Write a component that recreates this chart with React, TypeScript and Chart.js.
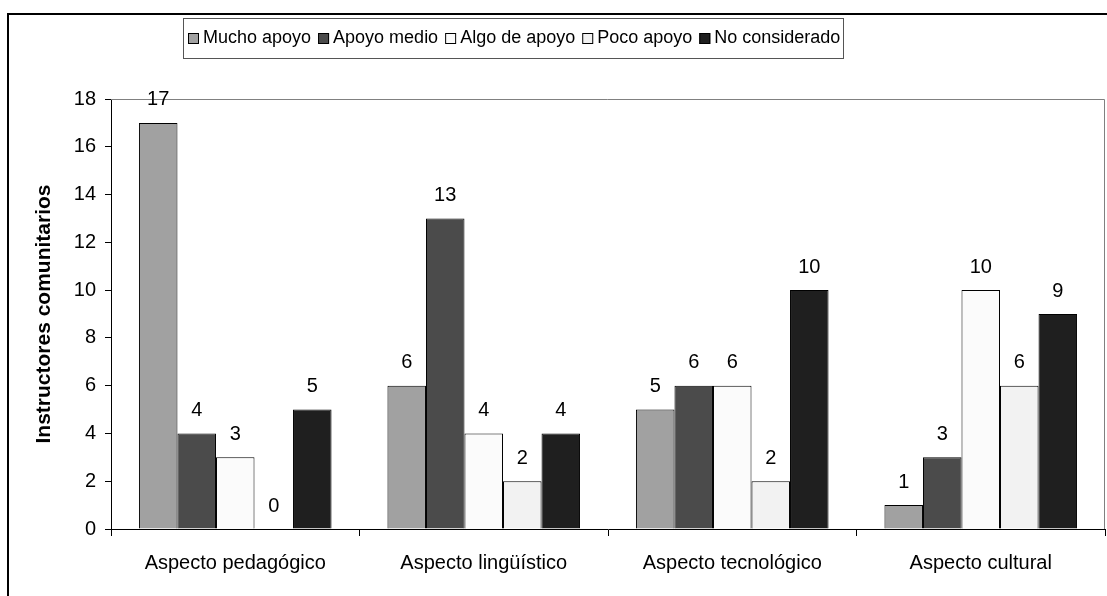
import React, { useEffect, useRef } from "react";
import { Chart, registerables } from "chart.js";

Chart.register(...registerables);

const categories = ["Aspecto pedagógico", "Aspecto lingüístico", "Aspecto tecnológico", "Aspecto cultural"];
const seriesNames = ["Mucho apoyo", "Apoyo medio", "Algo de apoyo", "Poco apoyo", "No considerado"];
const muchoApoyo = [17, 6, 5, 1];
const apoyoMedio = [4, 13, 6, 3];
const algoDeApoyo = [3, 4, 6, 10];
const pocoApoyo = [0, 2, 2, 6];
const noConsiderado = [5, 4, 10, 9];
const seriesColors = ["#a1a1a1", "#4b4b4b", "#fbfbfb", "#f2f2f2", "#1f1f1f"];
const yAxisTitle = "Instructores comunitarios";
const yMin = 0;
const yMax = 18;
const yStep = 2;

const FAMILY = "'Liberation Sans', Arial, sans-serif";

const decorPlugin = {
  id: "decor",
  beforeDraw(chart: any) {
    const ctx = chart.ctx;
    ctx.save();
    ctx.fillStyle = "#ffffff";
    ctx.fillRect(0, 0, chart.width, chart.height);
    ctx.fillStyle = "#000000";
    ctx.fillRect(7, 13, chart.width - 7, 2);
    ctx.fillRect(7, 13, 2, chart.height - 13);
    ctx.restore();
  },
  afterDatasetsDraw(chart: any) {
    const ctx = chart.ctx;
    const area = chart.chartArea;
    ctx.save();
    ctx.strokeStyle = "#808080";
    ctx.lineWidth = 1;
    ctx.beginPath();
    ctx.moveTo(area.left, Math.round(area.top) + 0.5);
    ctx.lineTo(Math.round(area.right) - 0.5, Math.round(area.top) + 0.5);
    ctx.lineTo(Math.round(area.right) - 0.5, area.bottom);
    ctx.stroke();
    ctx.fillStyle = "#000000";
    ctx.font = `20px ${FAMILY}`;
    ctx.textAlign = "center";
    ctx.textBaseline = "middle";
    chart.data.datasets.forEach((ds: any, i: number) => {
      const meta = chart.getDatasetMeta(i);
      meta.data.forEach((el: any, j: number) => {
        ctx.fillText(String(ds.data[j]), el.x, el.y - 23);
      });
    });
    ctx.restore();
  },
  afterDraw(chart: any) {
    const ctx = chart.ctx;
    ctx.save();
    ctx.font = `18px ${FAMILY}`;
    const datasets = chart.data.datasets;
    const widths = datasets.map((d: any) => ctx.measureText(d.label).width);
    const boxSize = 11;
    const gapIn = 4;
    const gapOut = 7;
    const pad = 4;
    let total = pad * 2 + gapOut * (datasets.length - 1);
    widths.forEach((w: number) => (total += boxSize + gapIn + w));
    const left = 183;
    const top = 18;
    const height = 40;
    ctx.strokeStyle = "#555555";
    ctx.lineWidth = 1;
    ctx.strokeRect(left + 0.5, top + 0.5, Math.round(total), height);
    const cy = top + height / 2 + 0.5;
    let x = left + pad + 1;
    ctx.textBaseline = "middle";
    ctx.textAlign = "left";
    datasets.forEach((d: any, i: number) => {
      ctx.fillStyle = d.backgroundColor;
      ctx.fillRect(x, Math.round(cy - boxSize / 2), boxSize, boxSize);
      ctx.strokeStyle = "#000000";
      ctx.strokeRect(x + 0.5, Math.round(cy - boxSize / 2) + 0.5, boxSize - 1, boxSize - 1);
      ctx.fillStyle = "#000000";
      ctx.fillText(d.label, x + boxSize + gapIn, cy);
      x += boxSize + gapIn + widths[i] + gapOut;
    });
    ctx.restore();
  },
};

export default function App() {
  const canvasRef = useRef<HTMLCanvasElement | null>(null);

  useEffect(() => {
    if (!canvasRef.current) return;
    const values = [muchoApoyo, apoyoMedio, algoDeApoyo, pocoApoyo, noConsiderado];
    const chart = new Chart(canvasRef.current, {
      type: "bar",
      data: {
        labels: categories,
        datasets: seriesNames.map((name, i) => ({
          label: name,
          data: values[i],
          backgroundColor: seriesColors[i],
          borderColor: "#000000",
          borderWidth: 1,
          categoryPercentage: 0.775,
          barPercentage: 1,
        })),
      },
      options: {
        animation: false,
        responsive: false,
        devicePixelRatio: 1,
        layout: { padding: { top: 99, right: 2, left: 0, bottom: 0 } },
        plugins: {
          legend: { display: false },
          tooltip: { enabled: false },
          title: { display: false },
        },
        scales: {
          x: {
            ticks: { font: { size: 20, family: FAMILY }, color: "#000000", padding: 15 },
            grid: { offset: true, drawOnChartArea: false, drawTicks: true, tickLength: 7, color: "#000000" },
            border: { color: "#000000", width: 1 },
            afterFit(scale: any) {
              scale.height = 67;
            },
          },
          y: {
            min: yMin,
            max: yMax,
            ticks: { stepSize: yStep, font: { size: 20, family: FAMILY }, color: "#000000", padding: 9 },
            grid: { drawOnChartArea: false, drawTicks: true, tickLength: 6, color: "#000000" },
            border: { color: "#000000", width: 1 },
            title: {
              display: true,
              text: yAxisTitle,
              font: { size: 21, weight: "bold", family: FAMILY },
              color: "#000000",
              padding: { top: 32, bottom: 0 },
            },
            afterFit(scale: any) {
              scale.width = 111;
            },
          },
        },
      } as any,
      plugins: [decorPlugin],
    });
    return () => chart.destroy();
  }, []);

  return (
    <div style={{ position: "fixed", left: 0, top: 0, width: 1107, height: 596, background: "#fff" }}>
      <canvas ref={canvasRef} width={1107} height={596} style={{ display: "block" }} />
    </div>
  );
}
